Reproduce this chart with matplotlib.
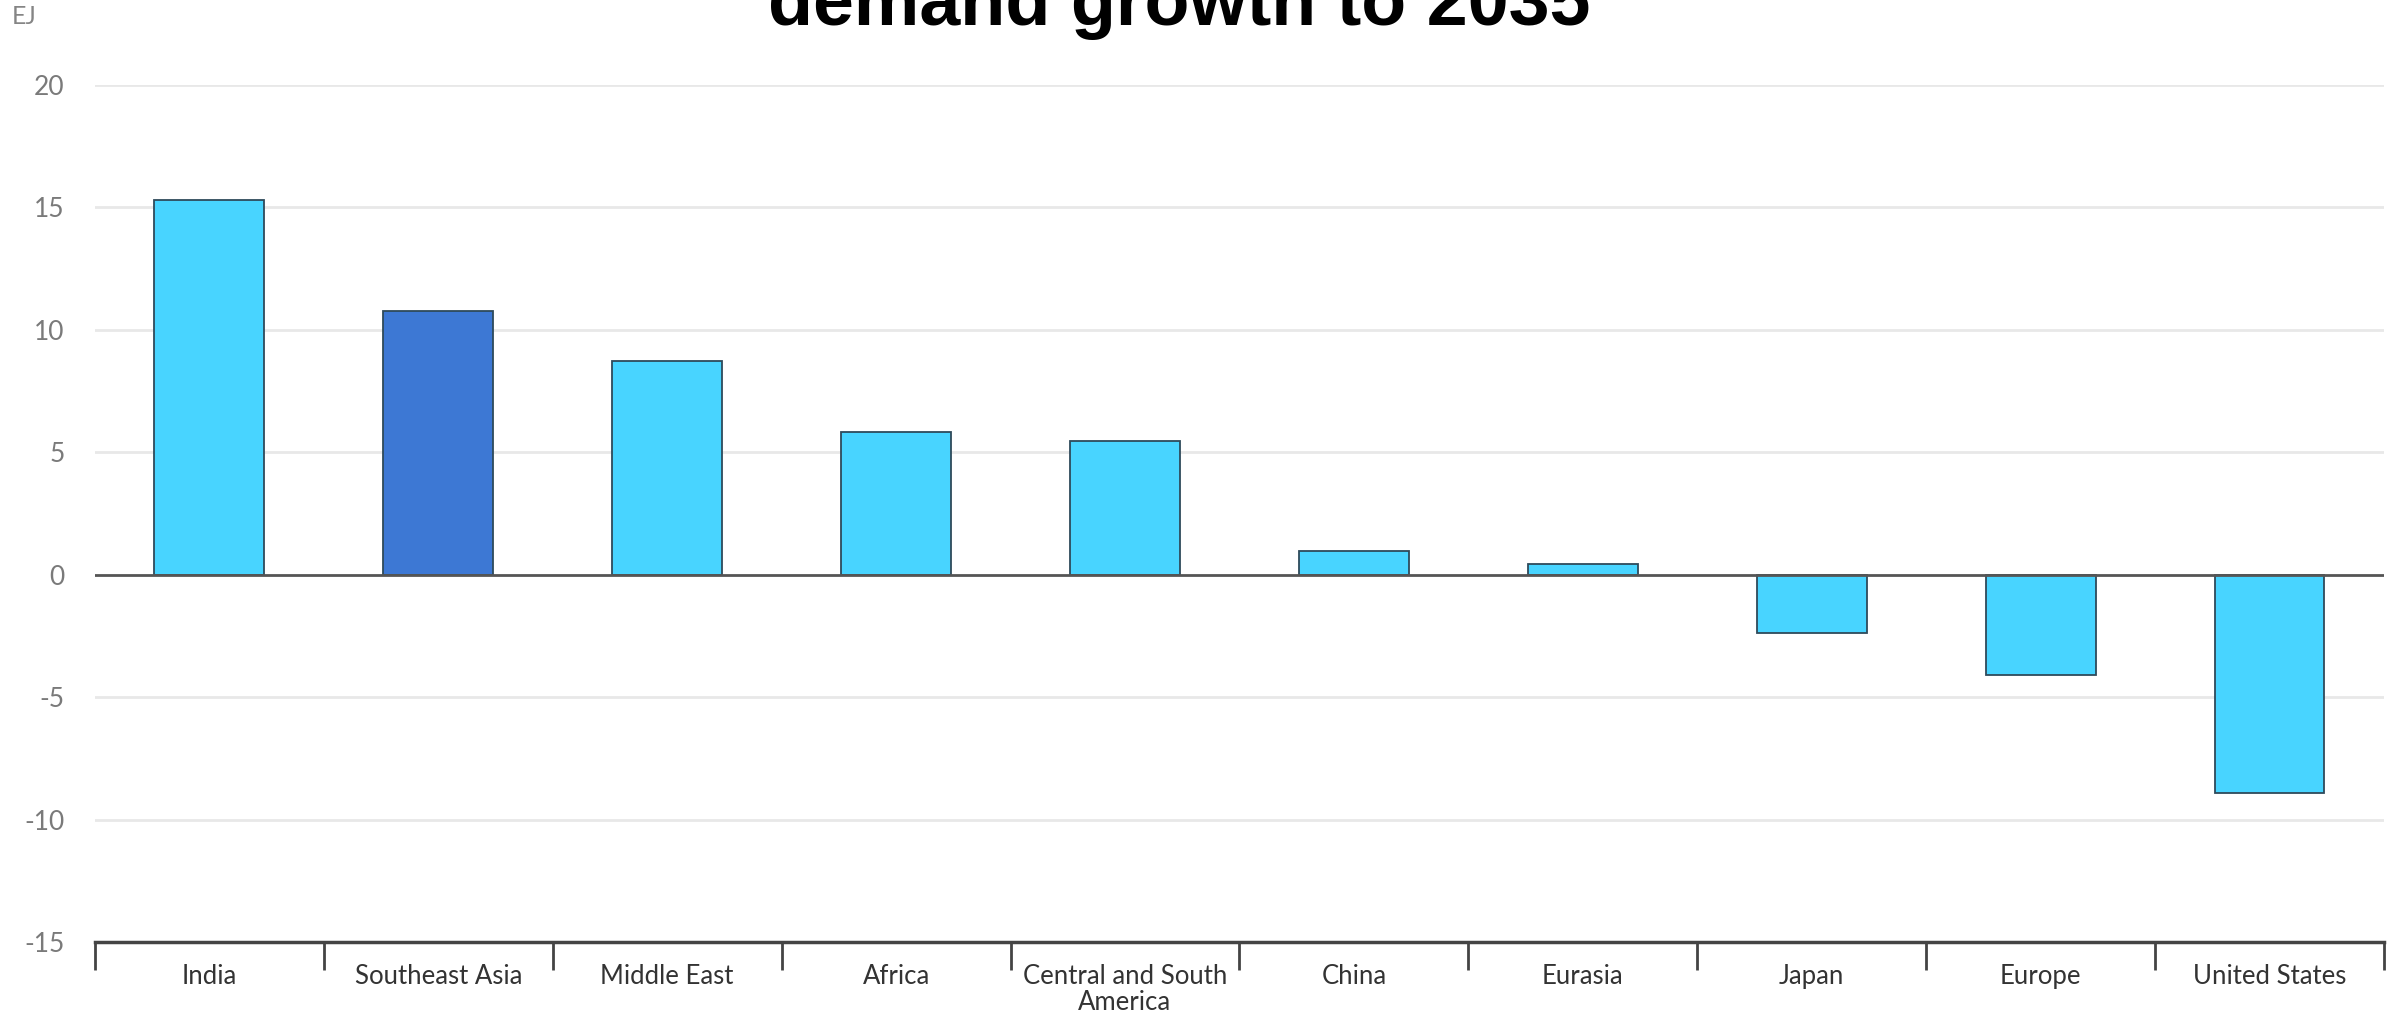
import numpy as np
import matplotlib.pyplot as plt

# data (EJ)
regions = ['India', 'Southeast Asia', 'Middle East', 'Africa', 'Central and South\nAmerica',
           'China', 'Eurasia', 'Japan', 'Europe', 'United States']
growth = [15.3, 10.75, 8.7, 5.8, 5.45, 0.95, 0.45, -2.4, -4.1, -8.9]
highlight = 'Southeast Asia'
y_ticks = [-15, -10, -5, 0, 5, 10, 15, 20]

light_blue = '#48d4ff'
dark_blue = '#3d78d4'

plt.rcParams['font.family'] = ['Lato', 'DejaVu Sans']

fig = plt.figure(figsize=(24.02, 10.16), dpi=100)
ax = fig.add_axes([0.0395, 0.0728, 0.953, 0.844])

x = np.arange(len(regions))
colors = [dark_blue if r == highlight else light_blue for r in regions]
ax.bar(x, growth, width=0.48, color=colors, edgecolor='#2e4a5a', linewidth=1.3, zorder=3)

ax.set_xlim(-0.5, len(regions) - 0.5)
ax.set_ylim(-15, 20)
ax.set_yticks(y_ticks)
ax.set_yticklabels([str(t) for t in y_ticks], fontsize=19, color='#7a7a7a')
ax.tick_params(axis='y', length=0, pad=22)
for t in y_ticks:
    if t != 0:
        ax.axhline(t, color='#e8e8e8', linewidth=2, zorder=1)
ax.axhline(0, color='#555555', linewidth=2, zorder=4)

# category labels centred, tick marks at category boundaries
ax.set_xticks(x)
ax.set_xticklabels(regions, fontsize=18.5, color='#333333', va='top', linespacing=1.05)
ax.set_xticks(np.arange(-0.5, len(regions)), minor=True)
ax.tick_params(axis='x', which='major', length=0, pad=16)
ax.tick_params(axis='x', which='minor', length=20, width=2, color='#444444', direction='out')

for side in ['top', 'right', 'left']:
    ax.spines[side].set_visible(False)
ax.spines['bottom'].set_color('#444444')
ax.spines['bottom'].set_linewidth(2.5)

fig.text(0.005, 0.984, 'EJ', fontsize=18, color='#858585', va='center', ha='left')
fig.text(0.491, 0.975, 'demand growth to 2035', fontsize=53, fontweight='bold',
         family=['Liberation Sans', 'DejaVu Sans'], ha='center', va='baseline')

fig.savefig('out.png', dpi=100, facecolor='white')
